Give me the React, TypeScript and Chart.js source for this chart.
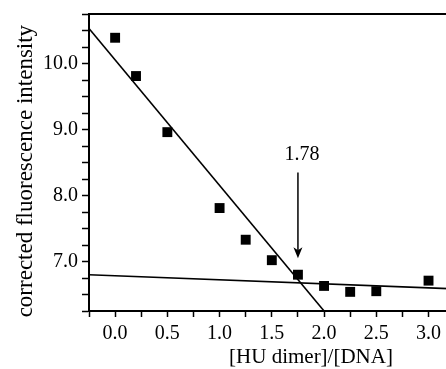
import React, { useEffect, useRef } from "react";
import { Chart, registerables } from "chart.js";

Chart.register(...registerables);

// Measured points: [HU dimer]/[DNA] vs corrected fluorescence intensity
const ratioValues = [0, 0.2, 0.5, 1.0, 1.25, 1.5, 1.75, 2.0, 2.25, 2.5, 3.0];
const intensityValues = [10.39, 9.81, 8.96, 7.81, 7.33, 7.02, 6.8, 6.63, 6.54, 6.55, 6.71];

// Fitted straight lines (endpoints)
const steepLineX = [-0.25, 2.0];
const steepLineY = [10.53, 6.25];
const flatLineX = [-0.25, 3.25];
const flatLineY = [6.8, 6.585];

// Annotation arrow
const arrowX = 1.75;
const arrowFromY = 8.35;
const arrowToY = 7.05;
const arrowLabel = "1.78";
const arrowLabelX = 1.79;
const arrowLabelY = 8.61;

// Axis ticks
const xTickLabels = ["0.0", "0.5", "1.0", "1.5", "2.0", "2.5", "3.0"];
const yTickLabels = ["7.0", "8.0", "9.0", "10.0"];
const xTitle = "[HU dimer]/[DNA]";
const yTitle = "corrected fluorescence intensity   ";

const FONT = "'Liberation Serif', 'Times New Roman', serif";

const annotPlugin = {
  id: "annot",
  afterDraw(chart: any) {
    const { ctx, chartArea, scales } = chart;
    const xs = scales.x;
    const ys = scales.y;
    ctx.save();
    ctx.strokeStyle = "#000";
    ctx.fillStyle = "#000";
    ctx.lineWidth = 2;
    ctx.beginPath();
    ctx.moveTo(chartArea.left - 1, chartArea.top);
    ctx.lineTo(chartArea.right, chartArea.top);
    ctx.stroke();

    const ax = xs.getPixelForValue(arrowX);
    const y0 = ys.getPixelForValue(arrowFromY);
    const y1 = ys.getPixelForValue(arrowToY);
    ctx.lineWidth = 1.5;
    ctx.beginPath();
    ctx.moveTo(ax, y0);
    ctx.lineTo(ax, y1 - 8);
    ctx.stroke();
    ctx.beginPath();
    ctx.moveTo(ax, y1);
    ctx.lineTo(ax - 4.5, y1 - 11);
    ctx.lineTo(ax, y1 - 8);
    ctx.lineTo(ax + 4.5, y1 - 11);
    ctx.closePath();
    ctx.fill();

    ctx.font = `20px ${FONT}`;
    ctx.textAlign = "center";
    ctx.textBaseline = "middle";
    ctx.fillText(arrowLabel, xs.getPixelForValue(arrowLabelX), ys.getPixelForValue(arrowLabelY));
    ctx.restore();
  },
};

export default function App() {
  const ref = useRef<HTMLCanvasElement | null>(null);

  useEffect(() => {
    if (!ref.current) return;
    const chart = new Chart(ref.current, {
      type: "scatter",
      data: {
        datasets: [
          {
            label: "data",
            data: ratioValues.map((x, i) => ({ x, y: intensityValues[i] })),
            pointStyle: "rect",
            pointRadius: 7,
            pointBorderWidth: 0,
            backgroundColor: "#000",
            borderColor: "#000",
            showLine: false,
            order: 0,
          },
          {
            label: "fit1",
            data: steepLineX.map((x, i) => ({ x, y: steepLineY[i] })),
            showLine: true,
            borderColor: "#000",
            borderWidth: 1.6,
            pointRadius: 0,
            order: 1,
          },
          {
            label: "fit2",
            data: flatLineX.map((x, i) => ({ x, y: flatLineY[i] })),
            showLine: true,
            borderColor: "#000",
            borderWidth: 1.6,
            pointRadius: 0,
            order: 1,
          },
        ],
      },
      options: {
        animation: false,
        responsive: false,
        maintainAspectRatio: false,
        layout: { padding: { top: 14, right: 7, bottom: 0, left: 0 } },
        plugins: { legend: { display: false }, tooltip: { enabled: false } },
        scales: {
          x: {
            type: "linear",
            min: -0.25,
            max: 4.0,
            afterFit: (s: any) => {
              s.height = 58;
            },
            border: { display: true, color: "#000", width: 2 },
            grid: {
              display: true,
              drawOnChartArea: false,
              drawTicks: true,
              tickLength: 6,
              tickWidth: 1.5,
              tickColor: "#000",
            },
            ticks: {
              stepSize: 0.25,
              autoSkip: false,
              maxRotation: 0,
              padding: 5,
              color: "#000",
              font: { family: FONT, size: 20 },
              callback: (v: any) => {
                const s = Number(v).toFixed(1);
                return Math.abs(Number(v) * 2 - Math.round(Number(v) * 2)) < 1e-6 && xTickLabels.includes(s) ? s : "";
              },
            },
            title: {
              display: true,
              text: xTitle,
              color: "#000",
              font: { family: FONT, size: 21 },
              padding: { top: 0, bottom: -1 },
            },
          },
          y: {
            type: "linear",
            min: 6.25,
            max: 10.75,
            afterFit: (s: any) => {
              s.width = 89;
            },
            border: { display: true, color: "#000", width: 2 },
            grid: {
              display: true,
              drawOnChartArea: false,
              drawTicks: true,
              tickLength: 7,
              tickWidth: 1.5,
              tickColor: "#000",
            },
            ticks: {
              stepSize: 0.25,
              autoSkip: false,
              padding: 4,
              color: "#000",
              font: { family: FONT, size: 20, lineHeight: 1.0 },
              callback: (v: any) => {
                const n = Number(v);
                const s = n.toFixed(1);
                return Math.abs(n - Math.round(n)) < 1e-6 && yTickLabels.includes(s) ? s : "";
              },
            },
            title: {
              display: true,
              text: yTitle,
              color: "#000",
              font: { family: FONT, size: 23 },
              padding: { top: 12, bottom: 0 },
            },
          },
        },
      },
      plugins: [annotPlugin],
    });
    return () => chart.destroy();
  }, []);

  return (
    <div
      style={{
        position: "absolute",
        left: 0,
        top: 0,
        width: 446,
        height: 369,
        overflow: "hidden",
        background: "#fff",
      }}
    >
      <canvas ref={ref} width={540} height={369} style={{ display: "block" }} />
    </div>
  );
}
